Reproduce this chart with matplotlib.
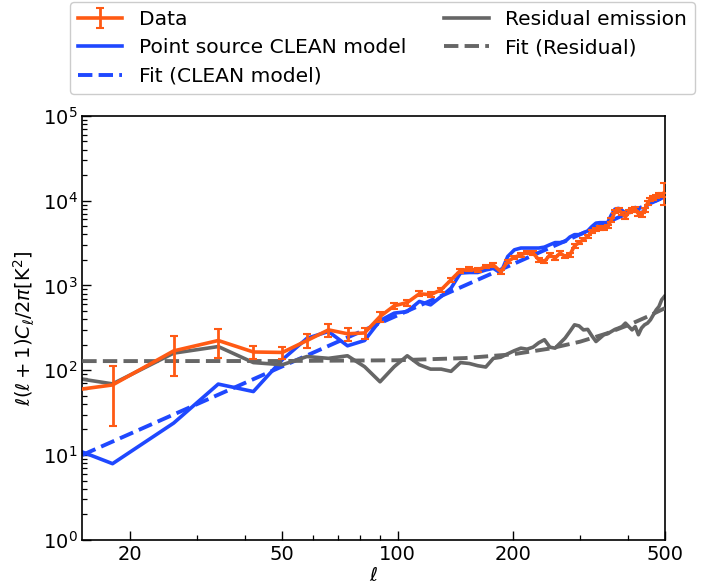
import matplotlib
matplotlib.use('Agg')
import matplotlib.pyplot as plt
import numpy as np
from matplotlib.ticker import FixedLocator, ScalarFormatter, NullFormatter

# multipole bins
ell = [10, 18, 26, 34, 42, 50, 58, 66, 74, 82, 90, 98, 106, 114, 122, 130,
       138, 146, 154, 162, 170, 178, 186, 194, 202, 210, 218, 226, 234, 242,
       250, 258, 266, 274, 282, 290, 298, 306, 314, 322, 330, 338, 346, 354,
       362, 370, 378, 386, 394, 402, 410, 418, 426, 434, 442, 450, 458, 466,
       474, 482, 490, 498]

data = [47, 67, 169, 224, 164, 162, 224, 299, 269, 275, 430, 575, 628, 797,
        777, 889, 1165, 1500, 1550, 1520, 1670, 1740, 1450, 1910, 2150, 2290,
        2450, 2410, 2000, 1910, 2290, 2100, 2410, 2190, 2290, 2930, 3200, 3460,
        3770, 4320, 4600, 4740, 4740, 4950, 5900, 7420, 7790, 7100, 6400, 7420,
        7790, 7940, 6980, 6800, 7790, 9350, 10400, 10700, 11200, 11700, 11700,
        12500]

data_err = [40, 45, 83, 86, 30, 25, 40, 55, 45, 40, 60, 50, 50, 55, 50, 55,
            65, 80, 80, 75, 80, 85, 70, 95, 100, 110, 115, 115, 100, 95,
            110, 100, 115, 105, 110, 140, 150, 160, 170, 200, 210, 220, 220, 230,
            270, 340, 360, 330, 300, 340, 360, 370, 320, 310, 360, 430, 480, 500,
            520, 540, 560, 3500]

clean = [22, 7.9, 23.8, 68.6, 56, 133, 238, 286, 194, 224, 385, 471, 492, 647,
         590, 740, 930, 1400, 1420, 1420, 1520, 1590, 1400, 2190, 2630, 2760,
         2760, 2760, 2760, 2830, 3020, 3200, 3200, 3300, 3720, 3970, 3970, 4170,
         4400, 4950, 5430, 5500, 5500, 5500, 6800, 7940, 8100, 7700, 7100, 7700,
         7800, 8300, 7420, 7100, 7790, 8920, 9500, 9800, 10000, 10400, 10700,
         11000]

resid = [104, 69, 159, 190, 123, 116, 145, 138, 148, 110, 73, 110, 148, 116,
         103, 103, 97, 123, 120, 113, 109, 138, 142, 156, 170, 182, 177, 187,
         211, 229, 187, 182, 209, 239, 286, 343, 333, 299, 303, 254, 218, 239,
         262, 269, 286, 303, 314, 327, 359, 327, 299, 327, 262, 314, 343, 359,
         393, 450, 514, 563, 676, 740]

# fit curves
fit_clean_ell = [15, 30, 100, 300, 500]
fit_clean = [10, 40, 444, 4000, 11100]

fit_res_ell = [15, 50, 100, 150, 200, 250, 300, 350, 400, 450, 500]
fit_res = [128, 128.4, 131, 139, 154, 180, 217, 269, 339, 429, 540]

orange = '#ff5a14'
blue = '#1f48ff'
gray = '#666666'

fig = plt.figure(figsize=(7.03, 5.88), dpi=100)
ax = fig.add_axes([0.117, 0.082, 0.829, 0.721])

ax.plot(ell, clean, color=blue, lw=2.6, label='Point source CLEAN model', zorder=2)
ax.plot(fit_clean_ell, fit_clean, color=blue, lw=2.8, ls='--', label='Fit (CLEAN model)', zorder=2)
ax.plot(ell, resid, color=gray, lw=2.6, label='Residual emission', zorder=2)
ax.plot(fit_res_ell, fit_res, color=gray, lw=2.8, ls='--', label='Fit (Residual)', zorder=3)
ax.errorbar(ell, data, yerr=data_err, color=orange, lw=2.6, elinewidth=2,
            capsize=3, capthick=1.5, label='Data', zorder=4)

ax.set_xscale('log')
ax.set_yscale('log')
ax.set_xlim(15, 500)
ax.set_ylim(1, 1e5)

ax.xaxis.set_major_locator(FixedLocator([20, 50, 100, 200, 500]))
ax.xaxis.set_major_formatter(ScalarFormatter())
ax.xaxis.set_minor_formatter(NullFormatter())

ax.tick_params(which='both', direction='in', labelsize=14)
ax.tick_params(which='major', length=6.5, width=1)
ax.tick_params(which='minor', length=3.5, width=0.9)
for s in ax.spines.values():
    s.set_linewidth(1.2)

ax.set_xlabel(r'$\ell$', fontsize=14, labelpad=2)
ax.set_ylabel(r'$\ell(\ell+1)C_\ell/2\pi[\mathrm{K}^2]$', fontsize=14)

h, l = ax.get_legend_handles_labels()
order = [4, 0, 1, 2, 3]
ax.legend([h[i] for i in order], [l[i] for i in order], ncol=2, fontsize=14.6,
          loc='upper center', bbox_to_anchor=(0.544, 0.997),
          bbox_transform=fig.transFigure, borderaxespad=0, handlelength=2.2,
          columnspacing=1.9, labelspacing=0.47, framealpha=1)

fig.savefig('out.png', dpi=100)
